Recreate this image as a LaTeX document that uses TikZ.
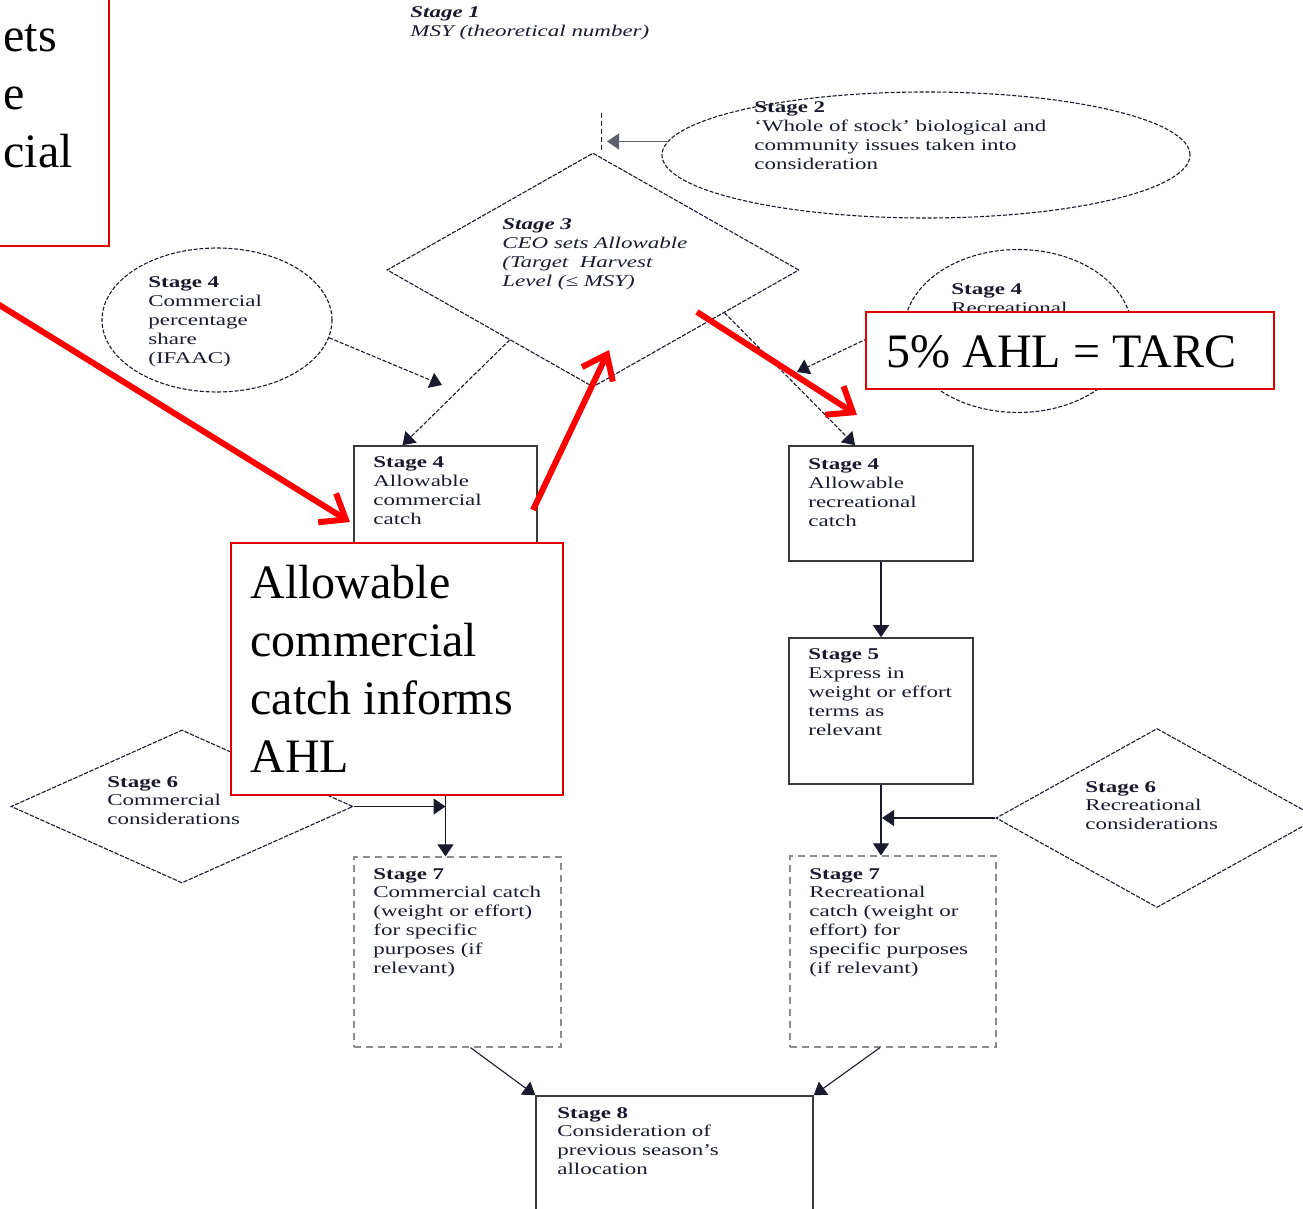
\documentclass[tikz,border=0pt]{standalone}
\usepackage{fontspec}
\setmainfont{Liberation Serif}
\newfontfamily\stagefont[FakeStretch=1.4]{Liberation Serif}
\usetikzlibrary{arrows.meta,positioning,shapes.geometric,calc}
\definecolor{ink}{HTML}{1A1A2E}
\definecolor{boxline}{HTML}{3A3A3A}
\definecolor{optline}{HTML}{8C8C8C}
\definecolor{notered}{HTML}{FF0000}
\definecolor{noteedge}{HTML}{E00000}
\tikzset{
  stagebox/.style={draw=boxline,line width=0.8pt,rectangle,inner sep=0pt},
  optbox/.style={draw=optline,line width=0.6pt,dash pattern=on 3.5pt off 2.5pt,
                 rectangle,inner sep=0pt},
  issueoval/.style={draw=ink,line width=0.55pt,dash pattern=on 2pt off 0.9pt,
                    ellipse,inner sep=0pt},
  choice/.style={draw=ink,line width=0.55pt,dash pattern=on 2.2pt off 0.7pt,
                 diamond,inner sep=0pt},
  % texts are placed by the baseline of their last line
  stagetxt/.style={anchor=base west,inner sep=0pt,align=left,text=ink,
                   font=\stagefont\fontsize{8.2}{9.4}\selectfont},
  notebox/.style={draw=noteedge,fill=white,line width=1pt,rectangle,inner sep=0pt},
  notetxt/.style={anchor=base west,inner sep=0pt,align=left,
                  font=\fontsize{24}{29}\selectfont},
  flowarr/.style={-{Triangle[length=6pt,width=8pt]},line width=0.55pt,draw=ink},
  dasharr/.style={flowarr,dash pattern=on 2pt off 0.9pt},
  notearr/.style={-{Straight Barb[length=11pt,width=17pt]},line width=3pt,draw=notered}
}

\begin{document}
\begin{tikzpicture}[x=0.5pt,y=-0.5pt]
  \useasboundingbox (0,0) rectangle (1303,1209);
  % stage shapes
  \node[issueoval,minimum width=264pt,minimum height=63pt] (s2) at (926,155) {};
  \node[choice,minimum width=206pt,minimum height=117pt] (s3) at (593,270) {};
  \node[issueoval,minimum width=115pt,minimum height=72pt] (s4c) at (217,320) {};
  \node[issueoval,minimum width=114pt,minimum height=81.5pt] (s4r) at (1018,331) {};
  \node[stagebox,minimum width=91.5pt,minimum height=57pt] (b4c) at (445.5,503) {};
  \node[stagebox,minimum width=92pt,minimum height=57.5pt] (b4r) at (881,503.5) {};
  \node[stagebox,minimum width=92pt,minimum height=73pt] (b5r) at (881,711) {};
  \node[choice,minimum width=171pt,minimum height=76.5pt] (s6c) at (182,806.5) {};
  \node[choice,minimum width=161pt,minimum height=89.5pt] (s6r) at (1157,818) {};
  \node[optbox,minimum width=103.5pt,minimum height=95pt] (b7c) at (457.5,952) {};
  \node[optbox,minimum width=103pt,minimum height=95.5pt] (b7r) at (893,951.5) {};
  \node[stagebox,minimum width=138.5pt,minimum height=74pt] (b8) at (674.5,1170) {};

  % stage texts
  \node[stagetxt] (t1) at (410,36.8) {\textbf{\textit{Stage 1}}\\\textit{MSY (theoretical number)}};
  \node[stagetxt] (t2) at (754,169.4) {\textbf{Stage 2}\\‘Whole of stock’ biological and\\community issues taken into\\consideration};
  \node[stagetxt] (t3) at (502,286.4) {\textbf{\textit{Stage 3}}\\\textit{CEO sets Allowable}\\\textit{(Target\ \ Harvest}\\\textit{Level (≤ MSY)}};
  \node[stagetxt] (t4c) at (148,363.2) {\textbf{Stage 4}\\Commercial\\percentage\\share\\(IFAAC)};
  \node[stagetxt] (t4r) at (951,313.8) {\textbf{Stage 4}\\Recreational};
  \node[stagetxt] (tb4c) at (373,524.4) {\textbf{Stage 4}\\Allowable\\commercial\\catch};
  \node[stagetxt] (tb4r) at (808,526.4) {\textbf{Stage 4}\\Allowable\\recreational\\catch};
  \node[stagetxt] (tb5r) at (808,735.2) {\textbf{Stage 5}\\Express in\\weight or effort\\terms as\\relevant};
  \node[stagetxt] (t6c) at (107,824.6) {\textbf{Stage 6}\\Commercial\\considerations};
  \node[stagetxt] (t6r) at (1085,829.6) {\textbf{Stage 6}\\Recreational\\considerations};
  \node[stagetxt] (tb7c) at (373,973) {\textbf{Stage 7}\\Commercial catch\\(weight or effort)\\for specific\\purposes (if\\relevant)};
  \node[stagetxt] (tb7r) at (809,973) {\textbf{Stage 7}\\Recreational\\catch (weight or\\effort) for\\specific purposes\\(if relevant)};
  \node[stagetxt] (tb8) at (557,1174.4) {\textbf{Stage 8}\\Consideration of\\previous season’s\\allocation};

  % connectors
  \coordinate (top1) at (601,113);
  \coordinate (cfree) at (442,385);
  \coordinate (rfree) at (797,372);
  \draw[ink,line width=0.5pt,dash pattern=on 2.5pt off 1.5pt] (top1) -- (top1 |- s3.north);
  \draw[flowarr,draw=ink!70] (s2.177) -- ($(s2.177 -| top1)+(6,0)$);
  \draw[dasharr] (s3.220) -- ($(b4c.north)+(-43,0)$);
  \draw[dasharr] (s3.-18) -- ($(b4r.north)+(-26,0)$);
  \draw[dasharr] (s4c.-9) -- (cfree);
  \draw[dasharr] (s4r.175) -- (rfree);
  \draw[flowarr] (b4r.south) -- (b5r.north);
  \draw[flowarr] (b5r.south) -- (b5r.south |- b7r.north);
  \draw[flowarr] (s6r.west) -- ($(s6r.west -| b5r.south)+(1,0)$);
  \draw[flowarr] (b4c.south) -- (b4c.south |- b7c.north);
  \draw[flowarr] (s6c.east) -- (s6c.east -| b4c.south);
  \draw[flowarr] ($(b7c.south)+(13,0)$) -- (b8.north west);
  \draw[flowarr] ($(b7r.south)+(-13,0)$) -- (b8.north east);

  % red notes
  \node[notebox,minimum width=64.5pt,minimum height=133pt] (n1) at (44.5,113) {};
  \node[notetxt] (n1t) at (3,168) {ets\\e\\cial};
  \node[notebox,minimum width=204pt,minimum height=38.5pt] (n2) at (1070,350.5) {};
  \node[notetxt] (n2t) at (886,368) {5\% AHL = TARC};
  \node[notebox,minimum width=166pt,minimum height=126pt] (n3) at (397,669) {};
  \node[notetxt] (n3t) at (250,772) {Allowable\\commercial\\catch informs\\AHL};

  % red arrows
  \coordinate (a1s) at (-20,293);
  \coordinate (a1e) at (350,522);
  \coordinate (a2s) at (533,510);
  \coordinate (a2e) at (609,350);
  \coordinate (a3s) at (697,312);
  \coordinate (a3e) at (857,415);
  \draw[notearr] (a1s) -- (a1e);
  \draw[notearr] (a2s) -- (a2e);
  \draw[notearr] (a3s) -- (a3e);
\end{tikzpicture}
\end{document}
